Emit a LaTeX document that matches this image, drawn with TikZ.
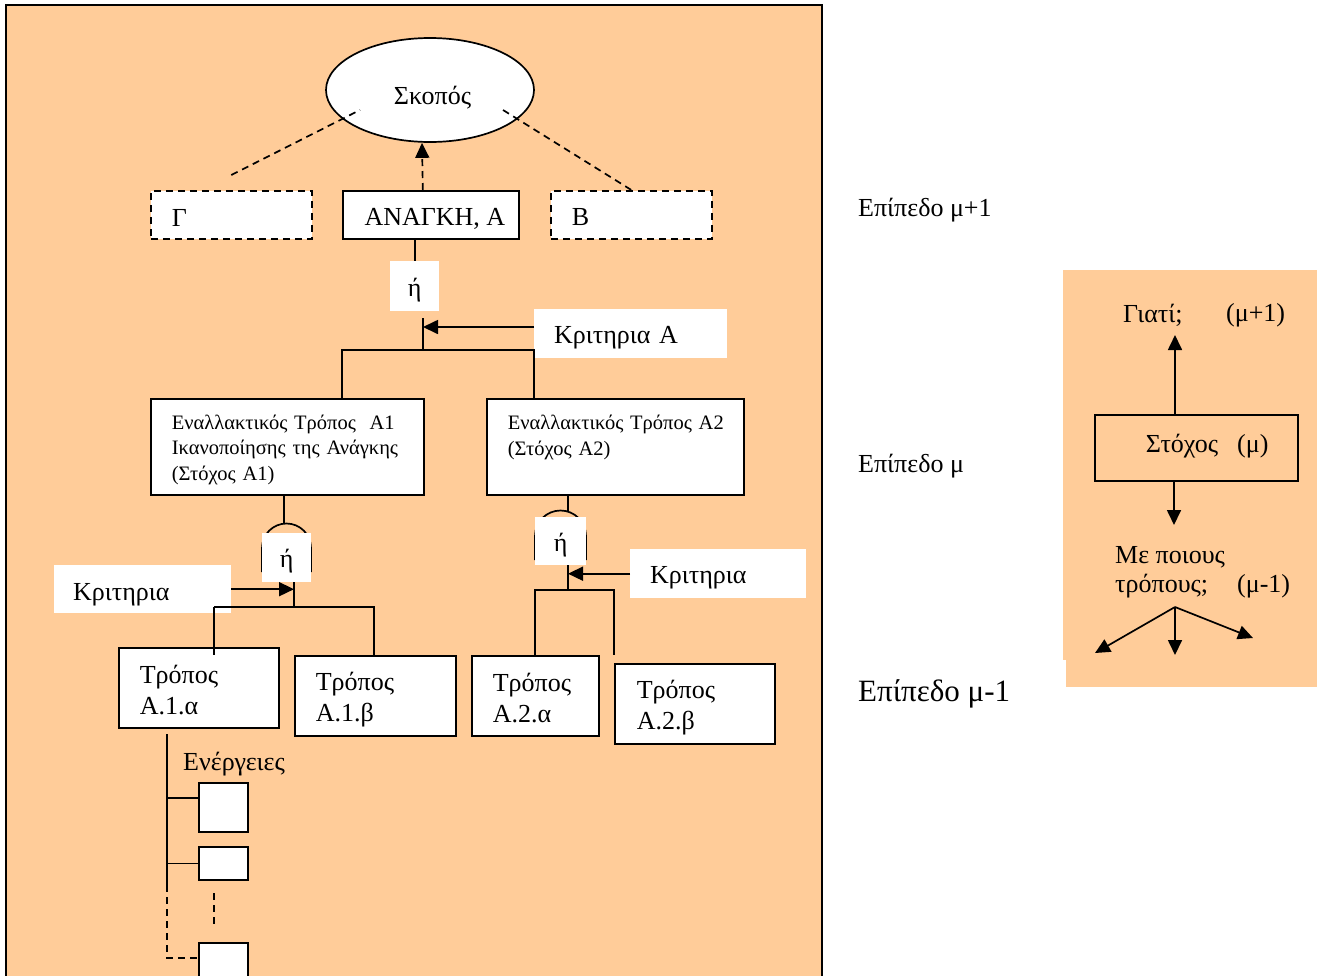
\documentclass[tikz,border=0pt]{standalone}
\usepackage{fontspec}
\setmainfont{Liberation Serif}
\usetikzlibrary{shapes.geometric,arrows.meta,calc}
\definecolor{peach}{HTML}{FFCC99}
\newcommand\lowr[2][3pt]{\raisebox{-#1}[\height][\depth]{#2}}
\begin{document}
\begin{tikzpicture}[x=1pt,y=-1pt,
  lw/.style={line width=1.7pt},
  bx/.style={draw, fill=white, line width=1.7pt, anchor=north west, inner ysep=0pt, align=left},
  wb/.style={fill=white, draw=none, anchor=north west, inner ysep=0pt, align=left},
  dsh/.style={dash pattern=on 7pt off 5pt},
  arr/.style={-{Triangle[length=15pt,width=14pt]}},
  big/.style={font=\fontsize{26}{31}\selectfont},
  sm/.style={font=\fontsize{20.5}{25.5}\selectfont},
  txt/.style={anchor=west, inner sep=0pt, font=\fontsize{26}{31}\selectfont},
]
\useasboundingbox (0,0) rectangle (1317,975);
\fill[white] (0,0) rectangle (1317,975);
% panels
\fill[peach] (6,5) rectangle (822,990);
\draw[line width=2.4pt] (6,990) -- (6,5) -- (822,5) -- (822,990);
\fill[peach] (1063,270) rectangle (1317,660);
\fill[peach] (1066,660) rectangle (1317,687);

% top level
\node[ellipse, draw, fill=white, line width=1.7pt, minimum width=208pt, minimum height=104pt, inner sep=0pt, big] (S) at (430,90) {\hspace*{5pt}\lowr[8pt]{Σκοπός}};
\node[bx, big, dsh, minimum height=48pt, text width=119pt, inner xsep=21pt] (G) at (150,190) {\lowr{Γ}};
\node[bx, big, minimum width=176pt, minimum height=48pt, inner xsep=0pt, align=center] (A) at (342,190) {\hspace*{8pt}\lowr[4pt]{ΑΝΑΓΚΗ, Α}};
\node[bx, big, dsh, minimum height=48pt, text width=119pt, inner xsep=21pt] (B) at (550,190) {\lowr[2pt]{Β}};
\draw[lw,dsh] ($(G.north)+(0,-15)$) -- ($(S.center)+(-70,20)$);
\draw[lw,dsh] ($(S.center)+(73,20)$) -- (B.north);
\draw[lw,dsh,arr] ($(A.north)+(-8,0)$) -- ($(S.south)+(-8,0)$);

% or-box under need
\node[wb, big, minimum width=49pt, minimum height=50pt, inner xsep=0pt, align=center] (H1) at (390,261) {\lowr[4pt]{ή}};
\draw[lw] (A.south -| H1.north) -- (H1.north);
\node[wb, big, minimum height=49pt, text width=153pt, inner xsep=20pt] (KA) at (534,309) {\lowr[4pt]{Κριτηρια Α}};

% level mu boxes
\node[bx, sm, minimum height=96pt, text width=231pt, inner xsep=21pt] (A1) at (150,398) {\lowr{Εναλλακτικός Τρόπος\ \ A1}\\\lowr{Ικανοποίησης της Ανάγκης}\\\lowr{(Στόχος A1)}};
\node[bx, sm, minimum height=96pt, text width=215pt, inner xsep=21pt] (A2) at (486,398) {\lowr[1pt]{Εναλλακτικός Τρόπος A2}\\\lowr[1pt]{(Στόχος A2)}\\\mbox{}};

\coordinate (jAt) at (423,318);
\coordinate (jA) at (423,350);
\coordinate (jAl) at (342,350);
\coordinate (jAr) at (534,350);
\coordinate (ka) at (0,327);
\draw[lw] (jAt) -- (jA);
\draw[lw] (jAl |- A1.north) -- (jAl) -- (jAr) -- (jAr |- A2.north);
\draw[lw,arr] (KA.west |- ka) -- (jA |- ka);

% lower-left group
\coordinate (h2top) at (284,524);
\draw[lw] (A1.south -| h2top) -- (h2top);
\draw[lw] (262,572) -- (262,548) arc[start angle=180, end angle=360, radius=24.5] -- (311,572);
\node[wb, big, minimum width=49pt, minimum height=49pt, inner xsep=0pt, align=center] (H2) at (262,533) {\lowr{ή}};
\node[wb, big, minimum height=48pt, text width=139pt, inner xsep=19pt] (KL) at (54,565) {\lowr[6pt]{Κριτηρια}};
\coordinate (jL) at (294,607);
\coordinate (jLl) at (214,607);
\coordinate (jLr) at (374,607);
\coordinate (t1in) at (214,655);
\draw[lw] (H2.south -| jL) -- (jL);
\draw[lw,arr] (KL.east) -- (KL.east -| jL);

% lower-right group
\coordinate (h3top) at (568,511);
\draw[lw] (A2.south -| h3top) -- (h3top);
\draw[lw] (535,560) -- (535,536) arc[start angle=180, end angle=360, radius=25.5] -- (586,560);
\node[wb, big, minimum width=51pt, minimum height=48pt, inner xsep=0pt, align=center] (H3) at (535,517) {\lowr[4pt]{ή}};
\node[wb, big, minimum height=49pt, text width=136pt, inner xsep=20pt] (KR) at (630,549) {\lowr[4pt]{Κριτηρια}};
\coordinate (jR) at (568,590);
\coordinate (jRl) at (535,590);
\coordinate (jRr) at (614,590);
\coordinate (t2bend) at (614,655);
\draw[lw] (H3.south -| jR) -- (jR);
\draw[lw,arr] (KR.west) -- (KR.west -| jR);

% level mu-1 boxes
\node[bx, big, minimum height=80pt, text width=118pt, inner xsep=21pt] (T1a) at (118,647) {\lowr[2.5pt]{Τρόπος}\\\lowr[2.5pt]{A.1.α}};
\node[bx, big, minimum height=80pt, text width=119pt, inner xsep=21pt] (T1b) at (294,655) {\lowr[4pt]{Τρόπος}\\\lowr[4pt]{A.1.β}};
\node[bx, big, minimum height=80pt, text width=85pt, inner xsep=21pt] (T2a) at (471,655) {\lowr[2.5pt]{Τρόπος}\\\lowr[2.5pt]{A.2.α}};
\node[bx, big, minimum height=80pt, text width=116pt, inner xsep=22pt] (T2b) at (614,663) {\lowr[4pt]{Τρόπος}\\\lowr[4pt]{A.2.β}};
\draw[lw] (jLl) -- (jLr) -- (jLr |- T1b.north);
\draw[lw] (jLl) -- (t1in);
\draw[lw] (jRl |- T2a.north) -- (jRl) -- (jRr) -- (t2bend);

% actions
\node[txt] (En) at (183,764) {Ενέργειες};
\node[bx, minimum width=49pt, minimum height=49pt, inner sep=0pt] (E1) at (198,782) {};
\node[bx, minimum width=49pt, minimum height=33pt, inner sep=0pt] (E2) at (198,846) {};
\node[bx, minimum width=49pt, minimum height=45pt, inner sep=0pt] (E3) at (198,942) {};
\coordinate (ev0) at (167,734);
\coordinate (ev1) at (167,885);
\coordinate (ev2) at (167,958);
\coordinate (e1y) at (167,798);
\coordinate (ed1) at (214,893);
\coordinate (ed2) at (214,928);
\draw[lw] (ev0) -- (ev1);
\draw[lw,dsh] (ev1) -- (ev2) -- (ev2 -| E3.west);
\draw[lw] (e1y) -- (e1y -| E1.west);
\draw[lw] (E2.west -| ev0) -- (E2.west);
\draw[lw,dsh] (ed1) -- (ed2);

% level labels
\node[txt] (L1) at (858,210) {Επίπεδο μ+1};
\node[txt] (L2) at (858,466) {Επίπεδο μ};
\node[txt, font=\fontsize{31}{36}\selectfont] (L3) at (858,694) {Επίπεδο μ-1};

% right legend
\node[draw, line width=2.3pt, anchor=north west, minimum width=203pt, minimum height=66pt, inner sep=0pt, big] (ST) at (1094,414) {\hspace*{21pt}\lowr[-2pt]{Στόχος\hspace{19pt}(μ)}};
\node[txt] (Gi) at (1123,315) {Γιατί;};
\node[txt] (Gm) at (1226,315) {(μ+1)};
\node[txt] (Mp) at (1115,557) {Με ποιους};
\node[txt] (Tr) at (1115,586) {τρόπους;};
\node[txt] (Mm) at (1237,586) {(μ-1)};
\coordinate (gy) at (1175,335);
\coordinate (md) at (1174,525);
\draw[lw,arr] (ST.north -| gy) -- (gy);
\draw[lw,arr] (ST.south -| md) -- (md);
\coordinate (fo) at (1175,607);
\coordinate (f1) at (1095,653);
\coordinate (f2) at (1175,655);
\coordinate (f3) at (1253,638);
\draw[lw,arr] (fo) -- (f1);
\draw[lw,arr] (fo) -- (f2);
\draw[lw,arr] (fo) -- (f3);
\end{tikzpicture}
\end{document}
